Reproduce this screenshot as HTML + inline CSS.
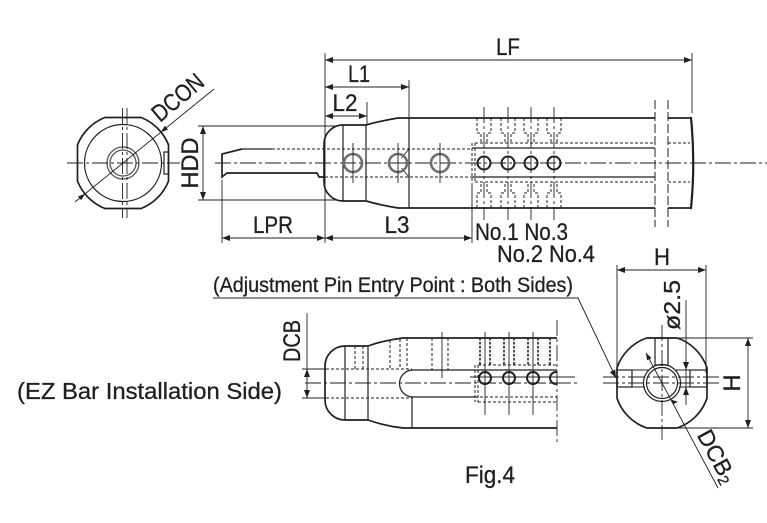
<!DOCTYPE html>
<html><head><meta charset="utf-8"><style>
html,body{margin:0;padding:0;background:#fff;}
svg{display:block;}
text{font-family:"Liberation Sans",sans-serif;fill:#231f20;stroke:#231f20;stroke-width:0.3;}
.o{stroke:#231f20;stroke-width:1.7;fill:none;}
.m{stroke:#231f20;stroke-width:1.2;fill:none;}
.t{stroke:#231f20;stroke-width:0.9;fill:none;}
.d{stroke:#231f20;stroke-width:1;fill:none;stroke-dasharray:3 2;}
.dd{stroke:#231f20;stroke-width:1.6;fill:none;stroke-dasharray:2.5 1.5;}
.c{stroke:#231f20;stroke-width:0.9;fill:none;stroke-dasharray:16 3 3 3;}
.b{stroke:#231f20;stroke-width:1;fill:none;stroke-dasharray:9 3;}
.g{stroke:#6e6e6e;stroke-width:2.6;fill:none;}
.h{stroke:#231f20;stroke-width:2;fill:none;}
.dim{stroke:#231f20;stroke-width:0.9;fill:none;marker-start:url(#ar);marker-end:url(#ar);}
.dim1{stroke:#231f20;stroke-width:0.9;fill:none;marker-end:url(#ar);}
</style></head><body>
<svg width="767" height="523" viewBox="0 0 767 523" xmlns="http://www.w3.org/2000/svg">
<defs>
<marker id="ar" viewBox="0 0 8 6" refX="8" refY="3" markerWidth="8" markerHeight="6" orient="auto-start-reverse" markerUnits="userSpaceOnUse"><path d="M0,0 L8,3 L0,6 z" fill="#231f20"/></marker>
<clipPath id="cl557"><rect x="0" y="0" width="557" height="523"/></clipPath>
</defs>

<!-- ===== Top-left end view ===== -->
<path class="o" d="M104.8,117.5 L141.2,117.5 A49,49 0 0 1 168.5,144.8 L168.5,181.2 A49,49 0 0 1 141.2,208.5 L104.8,208.5 A49,49 0 0 1 77.5,181.2 L77.5,144.8 A49,49 0 0 1 104.8,117.5 Z"/>
<circle class="m" cx="123" cy="163" r="38.5"/>
<circle cx="123" cy="163" r="16" stroke="#555" stroke-width="1.3" fill="none"/>
<circle cx="123" cy="163" r="13" stroke="#555" stroke-width="1.3" fill="none"/>
<rect x="164" y="152" width="4.5" height="22" class="m"/>
<line class="c" x1="122.5" y1="108" x2="122.5" y2="218"/>
<line class="c" x1="127" y1="108" x2="127" y2="218"/>
<line class="c" x1="67" y1="163" x2="180" y2="163"/>
<line class="t" x1="75" y1="202" x2="214" y2="89"/>
<polygon points="161,132.1 168,129.6 164.8,125.7" fill="#231f20"/>
<polygon points="85,193.9 81.2,200.2 78,196.4" fill="#231f20"/>
<text x="160" y="123" font-size="24" transform="rotate(-40 160 123)" textLength="60" lengthAdjust="spacingAndGlyphs">DCON</text>

<!-- ===== Top side view ===== -->
<line class="t" x1="198" y1="126" x2="336" y2="126"/>
<line class="t" x1="198" y1="200" x2="336" y2="200"/>
<line class="dim" x1="203" y1="126" x2="203" y2="200"/>
<text x="198" y="163" font-size="24" text-anchor="middle" transform="rotate(-90 198 163)" textLength="51" lengthAdjust="spacingAndGlyphs">HDD</text>

<path class="o" d="M242,149 L222,154 L222,177 L227,173 L317,173 L319,177 L325,177" stroke-width="1.4"/>
<line class="m" x1="242" y1="149" x2="272" y2="149"/>
<line class="d" x1="272" y1="149" x2="472" y2="149"/>
<line class="d" x1="325" y1="177" x2="472" y2="177"/>
<line class="c" x1="215" y1="163" x2="767" y2="163"/>

<path class="o" d="M343,125 L366,125 Q380,121 398,118 L655,118 M668,118 L690,118 M655,208 L398,208 Q380,205 366,201 L343,201 A19,19 0 0 1 324,182 L324,144 A19,19 0 0 1 343,125 M668,208 L690,208"/>
<path d="M690,118 L691,118 Q695.5,163 691,208 L690,208" stroke="#231f20" stroke-width="2.2" fill="none"/>
<line class="m" x1="343" y1="125" x2="343" y2="201"/>
<line class="m" x1="366" y1="125" x2="366" y2="201"/>
<line class="m" x1="409" y1="118" x2="409" y2="208"/>
<path class="t" d="M409,149 L401.5,158 M401.5,168 L409,177"/>

<circle class="g" cx="353" cy="163" r="9"/>
<circle class="g" cx="398" cy="163" r="9"/>
<circle class="g" cx="440" cy="163" r="9"/>
<line class="t" x1="353" y1="143" x2="353" y2="183"/>
<line class="t" x1="398" y1="143" x2="398" y2="183"/>
<line class="t" x1="440" y1="143" x2="440" y2="183"/>

<line class="d" x1="472" y1="143" x2="472" y2="183"/>
<line class="d" x1="475" y1="143" x2="475" y2="183"/>
<line class="d" x1="475" y1="143" x2="655" y2="143"/>
<line class="d" x1="475" y1="182" x2="655" y2="182"/>
<line class="m" x1="472" y1="148" x2="655" y2="148"/>
<line class="m" x1="472" y1="177" x2="655" y2="177"/>
<line class="d" x1="668" y1="143" x2="690" y2="143"/>
<line class="d" x1="668" y1="182" x2="690" y2="182"/>

<g>
<circle class="h" cx="484" cy="163" r="6.5"/>
<circle class="h" cx="508" cy="163" r="6.5"/>
<circle class="h" cx="531" cy="163" r="6.5"/>
<circle class="h" cx="554" cy="163" r="6.5"/>
<line class="c" x1="484" y1="107" x2="484" y2="220" stroke-dasharray="30 3 3 3"/>
<line class="c" x1="508" y1="107" x2="508" y2="220" stroke-dasharray="30 3 3 3"/>
<line class="c" x1="531" y1="107" x2="531" y2="220" stroke-dasharray="30 3 3 3"/>
<line class="c" x1="554" y1="107" x2="554" y2="220" stroke-dasharray="30 3 3 3"/>
<path class="d" stroke-dasharray="2.5 1.5" d="
M477,118 V133 H481 V143 M491,118 V133 H487 V143 M477,208 V193 H481 V183 M491,208 V193 H487 V183
M501,118 V133 H505 V143 M515,118 V133 H511 V143 M501,208 V193 H505 V183 M515,208 V193 H511 V183
M524,118 V133 H528 V143 M538,118 V133 H534 V143 M524,208 V193 H528 V183 M538,208 V193 H534 V183
M547,118 V133 H551 V143 M561,118 V133 H557 V143 M547,208 V193 H551 V183 M561,208 V193 H557 V183"/>
</g>

<line class="b" x1="655" y1="100" x2="655" y2="227"/>
<line class="b" x1="668" y1="100" x2="668" y2="227"/>

<line class="t" x1="325" y1="53" x2="325" y2="243"/>
<line class="t" x1="692" y1="53" x2="692" y2="113"/>
<line class="dim" x1="325" y1="60" x2="692" y2="60"/>
<text x="508" y="55" font-size="24" text-anchor="middle" textLength="24" lengthAdjust="spacingAndGlyphs">LF</text>
<line class="t" x1="409" y1="80" x2="409" y2="117"/>
<line class="dim" x1="325" y1="87" x2="409" y2="87"/>
<text x="359" y="82" font-size="24" text-anchor="middle" textLength="22" lengthAdjust="spacingAndGlyphs">L1</text>
<line class="t" x1="367" y1="102" x2="367" y2="124"/>
<line class="dim" x1="325" y1="116" x2="367" y2="116"/>
<text x="345" y="111" font-size="24" text-anchor="middle" textLength="25" lengthAdjust="spacingAndGlyphs">L2</text>

<line class="t" x1="222" y1="180" x2="222" y2="243"/>
<line class="t" x1="472" y1="183" x2="472" y2="243"/>
<line class="dim" x1="222" y1="238" x2="325" y2="238"/>
<line class="dim" x1="325" y1="238" x2="472" y2="238"/>
<text x="273" y="233" font-size="24" text-anchor="middle" textLength="40" lengthAdjust="spacingAndGlyphs">LPR</text>
<text x="397" y="233" font-size="24" text-anchor="middle" textLength="25" lengthAdjust="spacingAndGlyphs">L3</text>

<text x="475" y="240" font-size="24" textLength="93" lengthAdjust="spacingAndGlyphs">No.1 No.3</text>
<text x="497" y="262" font-size="24" textLength="98" lengthAdjust="spacingAndGlyphs">No.2 No.4</text>

<text x="213" y="292" font-size="21" textLength="360" lengthAdjust="spacingAndGlyphs">(Adjustment Pin Entry Point : Both Sides)</text>
<polyline class="dim1" points="213,298 578,298 616,378"/>

<!-- ===== Bottom side view ===== -->
<path class="o" d="M345,346 L368,346 Q385,340 403,338 L557,338 M557,428 L403,428 Q385,426 368,420 L345,420 A20,20 0 0 1 325,400 L325,366 A20,20 0 0 1 345,346"/>
<line class="m" x1="345" y1="346" x2="345" y2="420"/>
<line class="m" x1="368" y1="346" x2="368" y2="420"/>
<path class="m" d="M557,370 L413,370 A13.5,13.5 0 0 0 413,397 L475,397"/>
<line class="m" x1="412" y1="397" x2="412" y2="428"/>
<path class="d" d="M355,346 V369 M363,346 V369 M390,340 V369 M400,339 V369 M407,338 V369 M432,338 V370 M448,338 V370"/>
<line class="t" x1="442" y1="332" x2="442" y2="378"/>
<line class="d" x1="326" y1="369" x2="412" y2="369"/>
<line class="d" x1="326" y1="398" x2="412" y2="398"/>
<line class="t" x1="302" y1="369" x2="326" y2="369"/>
<line class="t" x1="302" y1="398" x2="326" y2="398"/>
<line class="c" x1="305" y1="383" x2="580" y2="383"/>
<line class="t" x1="470" y1="377" x2="575" y2="377"/>
<path class="d" d="M475,365 V402 M478,365 V402 M478,365 H557 M478,402 H557 M475,397 H557"/>
<path class="dd" d="M480,338 V365 M490,338 V365 M504,338 V365 M514,338 V365 M528,338 V365 M538,338 V365 M550,338 V365"/>
<g clip-path="url(#cl557)">
<circle class="h" cx="485" cy="378" r="6"/>
<circle class="h" cx="509" cy="378" r="6"/>
<circle class="h" cx="533" cy="378" r="6"/>
<circle class="h" cx="556" cy="378" r="6"/>
</g>
<path class="t" d="M485,332 V415 M509,332 V415 M533,332 V415"/>
<line class="c" x1="557" y1="320" x2="557" y2="445" stroke-dasharray="20 3 3 3"/>

<line class="t" x1="307" y1="313" x2="307" y2="398"/>
<line class="dim1" x1="307" y1="380" x2="307" y2="369"/>
<line class="dim1" x1="307" y1="387" x2="307" y2="398"/>
<text x="300" y="341" font-size="24" text-anchor="middle" transform="rotate(-90 300 341)" textLength="42" lengthAdjust="spacingAndGlyphs">DCB</text>

<text x="17" y="399" font-size="23" textLength="265" lengthAdjust="spacingAndGlyphs">(EZ Bar Installation Side)</text>
<text x="465" y="483" font-size="24" textLength="50" lengthAdjust="spacingAndGlyphs">Fig.4</text>

<!-- ===== Bottom-right end view ===== -->
<line class="t" x1="617" y1="265" x2="617" y2="377"/>
<line class="t" x1="706" y1="265" x2="706" y2="373"/>
<line class="dim" x1="617" y1="270" x2="706" y2="270"/>
<text x="662" y="265" font-size="24" text-anchor="middle" textLength="16" lengthAdjust="spacingAndGlyphs">H</text>

<path class="o" d="M646.8,338 L677.2,338 A47.5,47.5 0 0 1 707,367.8 L707,398.2 A47.5,47.5 0 0 1 677.2,428 L646.8,428 A47.5,47.5 0 0 1 617,398.2 L617,367.8 A47.5,47.5 0 0 1 646.8,338 Z"/>
<circle class="m" cx="662" cy="383" r="18.5"/>
<circle class="m" cx="662" cy="383" r="15.5"/>
<rect class="m" x="655" y="338" width="13" height="27"/>
<rect class="m" x="617" y="370" width="15" height="17"/>
<rect class="m" x="690" y="370" width="17" height="17"/>
<path class="t" d="M632,370 H649 M632,387 H645 M675,370 H690 M679,387 H690"/>
<line class="c" x1="603" y1="377" x2="720" y2="377"/>
<line class="c" x1="603" y1="383" x2="720" y2="383"/>
<line class="c" x1="662" y1="325" x2="662" y2="440" stroke-dasharray="10 3 3 3"/>

<line class="t" x1="686" y1="300" x2="686" y2="405"/>
<line class="dim1" x1="686" y1="360" x2="686" y2="370"/>
<line class="dim1" x1="686" y1="397" x2="686" y2="387"/>
<text x="680" y="305" font-size="23" text-anchor="middle" transform="rotate(-90 680 305)" textLength="50" lengthAdjust="spacingAndGlyphs">ø2.5</text>

<line class="t" x1="678" y1="338" x2="753" y2="338"/>
<line class="t" x1="678" y1="428" x2="753" y2="428"/>
<line class="dim" x1="748" y1="338" x2="748" y2="428"/>
<text x="740" y="383" font-size="24" text-anchor="middle" transform="rotate(-90 740 383)" textLength="17" lengthAdjust="spacingAndGlyphs">H</text>

<line class="t" x1="646" y1="353" x2="718" y2="488"/>
<polygon points="646,353 651.5,358 647.1,360.4" fill="#231f20"/>
<polygon points="671.2,399.6 677.9,401.7 673.5,404.1" fill="#231f20"/>
<text x="710" y="460" font-size="23" text-anchor="middle" transform="rotate(61.6 710 460)">DCB<tspan font-size="15" dy="3">2</tspan></text>
</svg>
</body></html>
